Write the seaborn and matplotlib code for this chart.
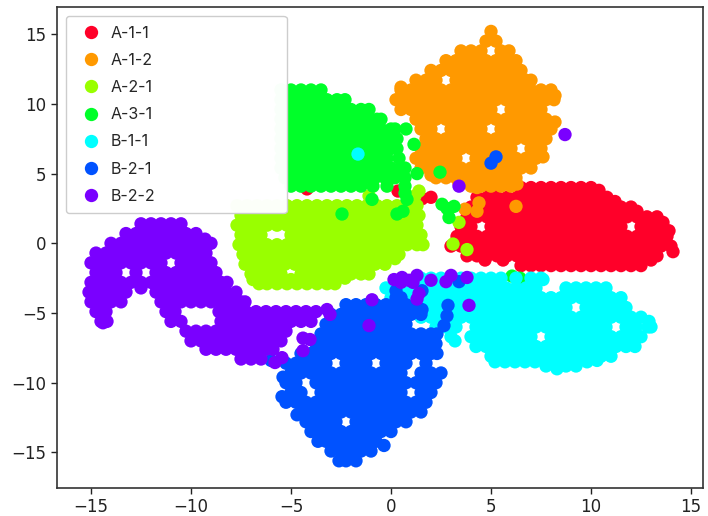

import matplotlib

matplotlib.use("Agg", force=True)
import matplotlib.pyplot as plt
import pandas as pd
import seaborn as sns

class_names = ["A-1-1", "A-1-2", "A-2-1", "A-3-1", "B-1-1", "B-2-1", "B-2-2"]
class_colors = ["#ff0029", "#ff9900", "#99ff00", "#00ff29", "#00ffff", "#0052ff", "#7a00ff"]
x_ticks = [-15, -10, -5, 0, 5, 10, 15]
y_ticks = [-15, -10, -5, 0, 5, 10, 15]

# every row is (y, [x, x, ...])
a11_rows = [
    (4.0, [6.5, 7, 7.5, 8, 8.5, 9, 9.5, 10]),
    (3.3, [4.3, 4.8, 5.3, 5.8, 6.3, 6.8, 7.3, 7.8, 8.3, 8.8, 9.3, 9.8, 10.3, 10.8]),
    (2.6, [4, 4.5, 5, 5.5, 6, 6.5, 7, 7.5, 8, 8.5, 9, 9.5, 10, 10.5, 11, 11.5, 12]),
    (1.9, [3.8, 4.3, 4.8, 5.3, 5.8, 6.3, 6.8, 7.3, 7.8, 8.3, 8.8, 9.3, 9.8, 10.3, 10.8, 11.3, 11.8, 12.3, 12.8, 13.3]),
    (1.2, [3.5, 4, 5, 5.5, 6, 6.5, 7, 7.5, 8, 8.5, 9, 9.5, 10, 10.5, 11, 11.5, 12.5, 13, 13.5]),
    (0.5, [3.3, 3.8, 4.3, 4.8, 5.3, 5.8, 6.3, 6.8, 7.3, 7.8, 8.3, 8.8, 9.3, 9.8, 10.3, 10.8, 11.3, 11.8, 12.3, 12.8, 13.3, 13.8]),
    (-0.2, [3, 3.5, 4, 4.5, 5, 5.5, 6, 6.5, 7, 7.5, 8, 8.5, 9, 9.5, 10, 10.5, 11, 11.5, 12, 12.5, 13, 13.5, 14]),
    (-0.9, [3.8, 4.3, 4.8, 5.3, 5.8, 6.3, 6.8, 7.3, 7.8, 8.3, 8.8, 9.3, 9.8, 10.3, 10.8, 11.3, 11.8, 12.3, 12.8, 13.3]),
    (-1.6, [6.5, 7, 7.5, 8, 8.5, 9, 9.5, 10, 10.5, 11, 11.5, 12, 12.5]),
]
a11_extra_x = [2.0, -4.2, 0.35, 1.55, 14.1, 13.9, 13.6, 12.3, 11.2, 10.4, 5.6, 4.7, 13.0, 5.0]
a11_extra_y = [3.3, 3.9, 3.75, 3.2, -0.6, 0.9, 1.5, 2.3, 3.0, 3.8, -1.2, -1.2, -1.2, 3.6]

a12_rows = [
    (15.2, [5]),
    (14.5, [4.75, 5.25]),
    (13.8, [3.5, 4, 4.5, 5.5, 5.9]),
    (13.1, [2.75, 3.25, 3.75, 4.25, 4.75, 5.25, 5.75, 6.25]),
    (12.4, [2, 2.5, 3, 3.5, 4, 4.5, 5, 5.5, 6, 6.5]),
    (11.7, [1.25, 1.75, 2.25, 3.25, 3.75, 4.25, 4.75, 5.25, 5.75, 6.25, 6.75, 7]),
    (11.0, [0.5, 1, 1.5, 2, 2.5, 3, 3.5, 4, 4.5, 5, 5.5, 6, 6.5, 7, 7.5, 8]),
    (10.3, [0.25, 0.75, 1.25, 1.75, 2.25, 2.75, 3.25, 3.75, 4.25, 4.75, 5.25, 5.75, 6.25, 6.75, 7.25, 7.75, 8.15]),
    (9.6, [0.5, 1, 1.5, 2, 2.5, 3, 3.5, 4, 4.5, 5, 6, 6.5, 7, 7.5]),
    (8.9, [1.25, 1.75, 2.25, 2.75, 3.25, 3.75, 4.25, 4.75, 5.25, 5.75, 6.25, 6.75, 7.25, 7.75]),
    (8.2, [1.5, 2, 3, 3.5, 4, 4.5, 5.5, 6, 6.5, 7, 7.5, 8]),
    (7.5, [1.75, 2.25, 2.75, 3.25, 3.75, 4.25, 4.75, 5.25, 5.75, 6.25, 6.75, 7.25, 7.75]),
    (6.8, [1.5, 2, 2.5, 3, 3.5, 4, 4.5, 5, 5.5, 6, 7, 7.5]),
    (6.1, [1.25, 1.75, 2.25, 2.75, 3.25, 4.25, 4.75, 5.25, 5.75, 6.25, 6.75, 7.25]),
    (5.4, [1.5, 2, 2.5, 3, 3.5, 4, 4.5, 5, 5.5, 6, 6.5, 7]),
    (4.7, [2.25, 2.75, 3.25, 3.75, 4.25, 4.75, 5.25, 5.75, 6.25]),
    (4.1, [4, 4.5, 5, 5.5, 6]),
]
a12_extra_x = [3.7, 4.3, 4.4, 6.25, 6.3, 8.2, 8.2, 7.6, 2.0, 3.4, 0.5, 4.3]
a12_extra_y = [2.45, 2.3, 2.9, 2.65, 4.25, 8.7, 10.6, 6.2, 4.9, 4.3, 11.2, 4.0]

a21_rows = [
    (2.7, [-7.7, -7.2, -6.7, -6.2, -5.7, -5.2, -4.7, -4.2, -3.7, -3.2, -2.7, -2.2, -1.7, -1.2, -0.7, -0.2, 0.3, 0.8, 1.3]),
    (2.0, [-7.5, -7, -6.5, -6, -5.5, -5, -4.5, -4, -3.5, -3, -2.5, -2, -1.5, -1, -0.5, 0, 0.5, 1, 1.4]),
    (1.3, [-7.7, -7.2, -6.7, -6.2, -5.7, -5.2, -4.7, -4.2, -3.7, -3.2, -2.7, -2.2, -1.7, -1.2, -0.7, -0.2, 0.3, 0.8, 1.3]),
    (0.6, [-7.5, -7, -6.5, -5, -4.5, -4, -3.5, -3, -2.5, -2, -1.5, -1, -0.5, 0, 0.5, 1, 1.5]),
    (-0.1, [-7.6, -7.2, -6.7, -6.2, -5.7, -5.2, -4.7, -4.2, -3.7, -3.2, -2.7, -2.2, -1.7, -1.2, -0.7, -0.2, 0.3, 0.8, 1.3, 1.6]),
    (-0.8, [-7.4, -7, -6.5, -6, -5.5, -5, -4.5, -4, -3.5, -3, -2.5, -2, -1.5, -1, -0.5, 0, 0.4]),
    (-1.5, [-7.3, -6.8, -6.3, -5.8, -5.3, -4.8, -4.3, -3.8, -3.3, -2.8, -2.3, -1.8, -1.3, -0.8, -0.3]),
    (-2.2, [-7, -6.5, -6, -5.5, -4.5, -4, -3.5, -3, -2.5, -2, -1.5, -1.1]),
    (-2.9, [-6.6, -6.2, -5.7, -5.2, -4.7, -4.2, -3.7, -3.2, -2.8]),
]
a21_extra_x = [0.8, 1.2, 1.4, -1.1, 3.4, 3.1, 3.8, -6.9, -5.9, -5, -4, -2.3, -1.6, 0.2]
a21_extra_y = [3.4, 3.4, 3.75, 3.4, 1.5, -0.05, -0.45, -2.6, -2.6, -2.6, -2.6, -2.5, -1.9, -1.1]

a31_rows = [
    (11.0, [-5.5, -5, -4.5, -4, -3.5]),
    (10.3, [-5.5, -5.2, -4.7, -4.2, -3.7, -3.2, -2.7, -2.3]),
    (9.6, [-5.5, -5, -4.5, -4, -3.5, -3, -2.5, -2, -1.5, -1.1]),
    (8.9, [-5.5, -5.2, -4.7, -4.2, -3.7, -3.2, -2.7, -2.2, -1.7, -1.2, -0.7, -0.5]),
    (8.2, [-5.5, -5, -4.5, -4, -3.5, -3, -2.5, -2, -1.5, -1, -0.5, 0, 0.2]),
    (7.5, [-5.5, -5.2, -4.7, -4.2, -3.7, -3.2, -2.7, -2.2, -1.7, -1.2, -0.7, -0.2, 0.3]),
    (6.8, [-5.5, -5, -4.5, -4, -3.5, -3, -2.5, -2, -1.5, -1, -0.5, 0, 0.3]),
    (6.1, [-5.5, -5.2, -4.7, -4.2, -3.7, -3.2, -2.7, -2.2, -1.7, -1.2, -0.7, -0.2, 0.4]),
    (5.4, [-5.5, -5, -4.5, -4, -3.5, -3, -2.5, -2, -1.5, -1, -0.5, 0, 0.5, 0.7]),
    (4.7, [-5.3, -4.8, -4.3, -3.8, -3.3, -2.8, -2.3, -1.8, -1.3, -0.8, -0.3, 0.2, 0.7]),
    (4.1, [-5, -4.5, -4, -3.5, -3, -2.5, -2, -1.5, -0.9, -0.2, 0.7]),
]
a31_extra_x = [2.45, 0.75, 1.15, 1.3, 2.55, 3.15, 2.9, 2.8, -2.45, -0.95, 0.3, 0.6, 0.8, 0.7, 6.05, 6.45]
a31_extra_y = [5.1, 8.2, 7.1, 5.0, 2.8, 2.65, 1.85, 2.5, 2.1, 3.15, 2.1, 2.3, 3.15, 3.6, -2.35, -2.5]

b11_rows = [
    (-2.5, [1.5, 2, 2.5, 3, 3.5, 4, 4.5, 5, 5.5, 6.25, 7, 7.5]),
    (-3.2, [-0.25, 0.25, 0.75, 1.25, 1.75, 2.25, 2.75, 3.25, 3.75, 4.25, 4.75, 5.25, 5.75, 6.25, 6.75, 7.25, 8.75, 9.25, 9.75, 10.25, 10.75]),
    (-3.9, [0, 0.5, 1, 1.5, 2, 2.5, 3, 3.5, 4, 4.5, 5, 5.5, 6, 6.5, 7, 7.5, 8, 8.5, 9, 9.5, 10, 10.5, 11, 11.5]),
    (-4.6, [1.75, 2.25, 2.75, 3.25, 3.75, 4.25, 4.75, 5.25, 5.75, 6.25, 6.75, 7.25, 7.75, 8.25, 8.75, 9.75, 10.25, 10.75, 11.25, 11.75]),
    (-5.3, [1.5, 2, 2.5, 3, 3.5, 4, 4.5, 5, 5.5, 6, 6.5, 7, 7.5, 8, 8.5, 9, 9.5, 10, 10.5, 11, 11.5, 12, 12.5]),
    (-6.0, [2.25, 2.75, 3.25, 4.25, 4.75, 5.25, 5.75, 6.25, 6.75, 7.25, 7.75, 8.25, 8.75, 9.25, 9.75, 10.25, 10.75, 11.75, 12.25, 12.85]),
    (-6.7, [3, 4, 4.5, 5, 5.5, 6, 6.5, 7, 8, 8.5, 9, 9.5, 10, 10.5, 11, 11.5, 12, 12.5]),
    (-7.4, [4.25, 4.75, 5.25, 5.75, 6.25, 6.75, 7.25, 7.75, 8.25, 8.75, 9.25, 9.75, 10.25, 10.75, 11.25, 11.75, 12.2]),
    (-8.1, [5, 5.5, 6, 6.5, 7, 7.5, 8, 8.5, 9, 9.5, 10, 10.5, 11]),
    (-8.8, [7.75, 8.25, 8.75, 9.25]),
]
b11_extra_x = [-1.65, 5.2, 5.7, 6.2, 6.7, 7.2, 9.8, 10.3, 8.3, 7.6, 13.0, 12.9, 3.2]
b11_extra_y = [6.4, -8.5, -8.5, -8.5, -8.5, -8.5, -8.5, -8.4, -9.0, -2.6, -6.0, -5.6, -7.0]

b21_rows = [
    (-4.4, [-2.25, -1.75, -1.25, -0.75, -0.25, 0.25, 0.75, 1.25]),
    (-5.1, [-3, -2.5, -2, -1.5, -1, -0.5, 0, 0.5, 1, 1.5]),
    (-5.8, [-3.25, -2.75, -2.25, -1.75, -1.25, -0.75, -0.25, 0.25, 0.75]),
    (-6.5, [-3.5, -3, -2.5, -2, -1.5, -1, -0.5, 0, 0.5, 1, 1.5, 2, 2.3]),
    (-7.2, [-3.75, -3.25, -2.75, -2.25, -1.75, -1.25, -0.75, -0.25, 0.25, 0.75, 1.25, 1.75, 2.25]),
    (-7.9, [-4.5, -4, -3.5, -3, -2.5, -2, -1.5, -1, -0.5, 0, 0.5, 1, 1.5, 2, 2.3]),
    (-8.6, [-5.25, -4.75, -4.25, -3.75, -3.25, -2.25, -1.75, -1.25, -0.25, 0.25, 0.75, 1.75]),
    (-9.3, [-5, -4.5, -4, -3.5, -3, -2.5, -2, -1.5, -1, -0.5, 0, 0.5, 1.5, 2, 2.5]),
    (-10.0, [-5.25, -4.75, -3.75, -3.25, -2.75, -2.25, -1.75, -1.25, -0.75, -0.25, 0.25, 0.75, 1.25, 1.75, 2.25]),
    (-10.7, [-5, -4.5, -3.5, -3, -2.5, -2, -1.5, -1, -0.5, 0, 0.5, 1.5, 2]),
    (-11.4, [-5.25, -4.75, -4.25, -3.75, -3.25, -2.75, -2.25, -1.75, -1.25, -0.75, -0.25, 0.25, 0.75, 1.25, 1.75]),
    (-12.1, [-4.5, -4, -3.5, -3, -2.5, -2, -1.5, -1, -0.5, 0, 0.5, 1, 1.5]),
    (-12.8, [-4.25, -3.75, -3.25, -2.75, -1.75, -1.25, -0.75, -0.25, 0.25, 0.75]),
    (-13.5, [-4, -3.5, -3, -2.5, -2, -1.5, -1, -0.5, 0]),
    (-14.2, [-3.65, -3.25, -2.75, -2.25, -1.75, -1.25, -0.75]),
    (-14.9, [-3, -2.5, -2, -1.5, -1]),
    (-15.6, [-2.6, -2.25, -1.75]),
]
b21_extra_x = [5.0, 5.25, 0.25, 0.25, 0.5, 1.55, 3.4, 2.85, 2.8, 2.65, 1.55, -6.0, -5.45, -5.4, -0.35, -4.7]
b21_extra_y = [5.75, 6.2, -3.4, -3.9, -3.9, -3.4, -2.75, -4.45, -5.2, -5.9, -4.75, -8.4, -11.0, -9.6, -14.5, -12.3]

b22_rows = [
    (1.4, [-12.5, -12, -11.5, -11, -10.5]),
    (0.7, [-13.25, -12.75, -12.25, -11.75, -11.25, -10.75, -10.25, -9.75]),
    (0.0, [-14, -13.5, -13, -12.5, -12, -11.5, -11, -10.5, -10, -9.5, -9]),
    (-0.7, [-14.75, -14.25, -13.75, -13.25, -12.75, -12.25, -11.75, -11.25, -10.75, -10.25, -9.75, -9.25]),
    (-1.4, [-15, -14.5, -14, -13.5, -13, -12.5, -12, -11.5, -10.5, -10, -9.5, -9]),
    (-2.1, [-14.75, -14.25, -13.75, -12.75, -11.75, -11.25, -10.75, -10.25, -9.75, -9.25, -8.75]),
    (-2.8, [-15, -14.5, -14, -13.5, -13, -12.5, -12, -11.5, -11, -10.5, -10, -9.5, -9, -8.5, -8.2]),
    (-3.5, [-15.1, -14.75, -14.25, -13.75, -13.25, -11.75, -11.25, -10.75, -10.25, -9.75, -9.25, -8.75, -8.25, -7.75]),
    (-4.2, [-15, -14.5, -14, -13.5, -11.5, -11, -10.5, -10, -9.5, -9, -8.5, -8, -7.5, -7.3]),
    (-4.9, [-14.75, -14.25, -11.25, -10.8, -8.6, -8.25, -7.75, -7.25, -6.75, -6.25, -5.75, -5.25, -4.75, -4.25, -3.75]),
    (-5.6, [-14.5, -14.2, -11, -10.5, -8.5, -8, -7.5, -7, -6.5, -6, -5.5, -5, -4.5, -4]),
    (-6.3, [-10.25, -9.75, -9.25, -8.75, -8.25, -7.75, -7.25, -6.75, -6.25, -5.75, -5.25]),
    (-7.0, [-10, -9.5, -9, -8.5, -8, -7.5, -7, -6.5, -6, -5.5]),
    (-7.6, [-9.25, -8.75, -8.25, -7.75, -7.25, -6.75, -6.25, -5.9]),
    (-8.3, [-7.5, -7, -6.5]),
]
b22_extra_x = [8.7, 3.4, 0.15, 0.55, 0.9, 1.3, 1.3, 1.4, 2.0, 2.75, 3.0, 3.8, 3.9, -0.95, -1.1,
               0.5, 1.1, -5.45, -5.8, -4.4, -4.05, -4.4, -3.2, -3.05, -12.5, -9.3, -14.4]
b22_extra_y = [7.8, 4.1, -2.6, -2.45, -2.65, -2.3, -4.0, -3.6, -2.65, -2.75, -2.3, -2.45, -4.45, -4.05, -5.9,
               -2.8, -2.8, -8.2, -8.55, -6.8, -6.9, -7.7, -4.75, -5.1, -3.2, 0.3, -5.7]


def class_frame(name, rows, extra_x, extra_y):
    xs = [x for y, row in rows for x in row] + extra_x
    ys = [y for y, row in rows for _ in row] + extra_y
    return pd.DataFrame({"x": xs, "y": ys, "label": name})


frames = [
    class_frame(class_names[0], a11_rows, a11_extra_x, a11_extra_y),
    class_frame(class_names[1], a12_rows, a12_extra_x, a12_extra_y),
    class_frame(class_names[2], a21_rows, a21_extra_x, a21_extra_y),
    class_frame(class_names[3], a31_rows, a31_extra_x, a31_extra_y),
    class_frame(class_names[4], b11_rows, b11_extra_x, b11_extra_y),
    class_frame(class_names[5], b21_rows, b21_extra_x, b21_extra_y),
    class_frame(class_names[6], b22_rows, b22_extra_x, b22_extra_y),
]
points = pd.concat(frames, ignore_index=True)

sns.set_style("ticks")
plt.rcParams["font.family"] = ["DejaVu Sans"]

fig = plt.figure(figsize=(7.08, 5.16), dpi=100)
ax = fig.add_axes([57 / 708, 1 - 488 / 516, 646 / 708, 481 / 516])
sns.scatterplot(
    data=points,
    x="x",
    y="y",
    hue="label",
    hue_order=class_names,
    palette=class_colors,
    s=92,
    linewidth=0,
    ax=ax,
    legend=True,
)
ax.set_xlim(-16.7, 15.6)
ax.set_ylim(-17.55, 16.95)
ax.set_xticks(x_ticks)
ax.set_yticks(y_ticks)
ax.set_xlabel("")
ax.set_ylabel("")
ax.tick_params(labelsize=12, length=4, width=1, colors="#222222")
for spine in ax.spines.values():
    spine.set_color("#333333")
    spine.set_linewidth(1.2)

handles, labels = ax.get_legend_handles_labels()
ax.legend(
    handles,
    labels,
    bbox_to_anchor=(8.5 / 646, 1 - 204 / 481, 221 / 646, 195 / 481),
    loc="upper left",
    mode="expand",
    borderaxespad=0,
    markerscale=1.0,
    framealpha=0.98,
    prop={"family": "Inter", "size": 11.5},
    labelspacing=0.765,
    borderpad=0.6,
    handlelength=2.0,
    handletextpad=0.2,
)
fig.savefig("out.png", dpi=100)
plt.close(fig)
